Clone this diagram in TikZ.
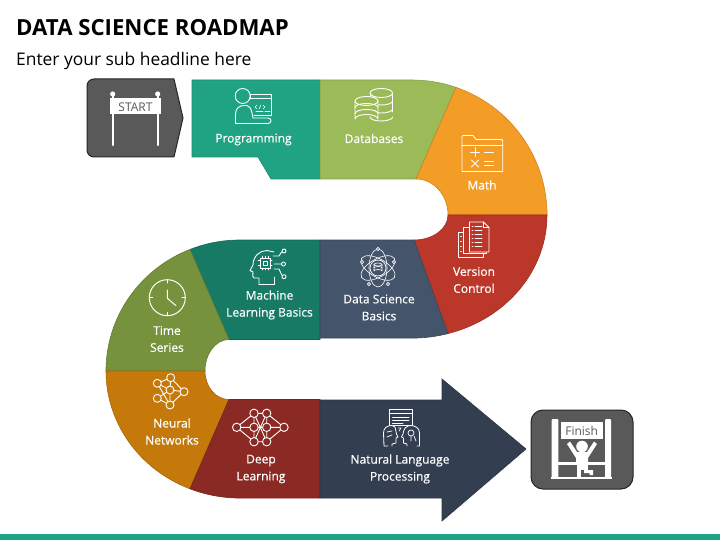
\documentclass[tikz,border=0pt]{standalone}
\usepackage{fontspec}
\setmainfont{Open Sans}
\newfontfamily\labelfont[FakeBold=0.5]{Open Sans}
\definecolor{progteal}{HTML}{1FA382}
\definecolor{dbgreen}{HTML}{9BBB59}
\definecolor{mathorange}{HTML}{F39C26}
\definecolor{vcred}{HTML}{BA372A}
\definecolor{dsnavy}{HTML}{44546A}
\definecolor{mlteal}{HTML}{167A64}
\definecolor{tsolive}{HTML}{76923C}
\definecolor{nnorange}{HTML}{C5790A}
\definecolor{dlbrown}{HTML}{8B2A24}
\definecolor{nlpslate}{HTML}{333F50}
\definecolor{signgrey}{HTML}{595959}
\begin{document}
\begin{tikzpicture}[x=1pt,y=-1pt,
    segment/.style={fill=#1,draw=#1!85!black,line width=0.6pt},
    label node/.style={text=white,align=center,font=\labelfont\fontsize{12}{17}\selectfont,inner sep=0pt},
    icon/.style={draw=white,line width=0.9pt,line join=round,line cap=round},
    sign box/.style={fill=signgrey,draw=black!85,line width=1pt}]

            \useasboundingbox (0,0) rectangle (720,540);
            \fill[progteal] (0,534) rectangle (720,540);

            \node[anchor=west,inner sep=0pt,font=\fontsize{22.2}{27}\selectfont\bfseries] (title) at (16,28) {DATA SCIENCE ROADMAP};
            \node[anchor=west,inner sep=0pt,font=\fontsize{17.4}{21}\selectfont] (sub) at (16,60.5) {Enter your sub headline here};

            \draw[sign box] (174,79) -- (183,118) -- (174,157) [rounded corners=7pt] -- (87,157) -- (87,79) -- (174,79);
            \draw[sign box,rounded corners=12pt] (531,410) rectangle (633,489);

            \draw[segment=progteal] (192,80) -- (320,80) -- (320,179) -- (271,179) -- (258,157) -- (192,157) -- cycle;
            \draw[segment=dbgreen] (320,80) -- (412,80) arc[start angle=-90,end angle=-71,radius=135] -- (416,179) -- (320,179) -- cycle;
            \draw[segment=mathorange] (456,87.4) arc[start angle=-71,end angle=0,radius=135] -- (448,215) arc[start angle=0,end angle=-90,x radius=32,y radius=36] -- cycle;
            \draw[segment=vcred] (547,215) arc[start angle=0,end angle=74.5,x radius=135,y radius=123] -- (414,240) arc[start angle=90,end angle=0,x radius=34,y radius=25] -- cycle;
            \draw[segment=mlteal] (320,240) -- (240,240) arc[start angle=-90,end angle=-111.9,x radius=134,y radius=131] -- (229,339.5) -- (320,339.5) -- cycle;
            \draw[segment=dsnavy] (320,240) -- (414,240) -- (448,333.6) arc[start angle=74.5,end angle=90,x radius=135,y radius=123] -- (320,338) -- cycle;
            \draw[segment=tsolive] (190,249.4) arc[start angle=-111.9,end angle=-180,x radius=134,y radius=131] -- (205,371) arc[start angle=180,end angle=270,x radius=24,y radius=31.5] -- cycle;
            \draw[segment=nnorange] (106,371) arc[start angle=180,end angle=112,x radius=134,y radius=127] -- (229,399.5) arc[start angle=90,end angle=180,x radius=24,y radius=28.5] -- cycle;
            \draw[segment=dlbrown] (320,399.5) -- (229,399.5) -- (190,488.8) arc[start angle=112,end angle=90,x radius=134,y radius=127] -- (320,498) -- cycle;
            \draw[segment=nlpslate] (320,400) -- (442,400) -- (442,379) -- (526,449) -- (442,521) -- (442,498) -- (320,498) -- cycle;

            \node[label node] (prog) at (253.5,139.5) {Programming};
            \node[label node] (db) at (374,138.5) {Databases};
            \node[label node] (math) at (482,185) {Math};
            \node[label node] (vc) at (474,280) {Version\\Control};
            \node[label node] (ds) at (379,307.5) {Data Science\\Basics};
            \node[label node] (ml) at (269.5,305) {Machine\\Learning Basics};
            \node[label node] (ts) at (167,339) {Time\\Series};
            \node[label node] (nn) at (172,431.5) {Neural\\Networks};
            \node[label node] (dl) at (261,469) {Deep\\Learning};
            \node[label node] (nlp) at (400,469) {Natural Language\\Processing};

            % start sign
            \foreach \x in {112.7,157.7} {
                \fill[white] (\x,94) circle[radius=2.6];
                \draw[white,line width=2.4pt,line cap=round] (\x,95) -- (\x,145);
            }
            \fill[white] (110,98) rectangle (161,114);
            \node[text=signgrey,inner sep=0pt,font=\fontsize{12}{14}\selectfont] (start) at (135.5,107) {START};

            % finish sign
            \fill[white,rounded corners=1pt] (551.7,419) rectangle (558.3,478);
            \fill[white,rounded corners=1pt] (605,419) rectangle (611,478);
            \fill[white] (550.5,477) rectangle (612,479);
            \fill[white] (558,462) rectangle (606,464.5);
            \fill[white] (560.7,421.7) rectangle (602.7,439.3);
            \node[text=signgrey,inner sep=0pt,font=\fontsize{12}{14}\selectfont] (finish) at (581.7,431) {Finish};
            \fill[white] (582,446.5) circle[radius=5.8];
            \fill[white] (567,444) -- (570,441.5) -- (577,452) -- (587,452) -- (594,441.5) -- (597,444) -- (588,458) -- (588,464) -- (576,464) -- (576,458) -- cycle;
            \fill[white] (576.5,464) rectangle (588,470);
            \fill[white] (577,470) rectangle (581,478);
            \fill[white] (584,470) -- (593,470) -- (593,475) -- (589.5,475) -- (589.5,473) -- (584,473) -- cycle;

            % programming
            \draw[icon] (250,99) -- (250,94.5) -- (271.7,94.5) -- (271.7,115.5) -- (254,115.5);
            \draw[icon] (250,98.5) -- (271.7,98.5);
            \draw[icon,line width=0.6pt] (257,105) -- (255,107) -- (257,109) (259,109) -- (261,105) (263,105) -- (265,107) -- (263,109);
            \draw[icon,line width=0.6pt] (256,111) -- (263,111) (265,111) -- (270,111);
            \draw[icon] (242.7,96) circle[radius=7.5];
            \draw[icon] (235.5,123.5) -- (235.5,114) .. controls (235.5,108) and (240,105.5) .. (244,105.5) -- (247,105.5) .. controls (250,106) and (251,109) .. (252,113) -- (253,118) -- (268,118) .. controls (272,118) and (272,123.5) .. (268,123.5) -- cycle;

            % databases
            \foreach \y in {0,8,16} {
                \draw[icon] (370,\y+101) arc[start angle=180,end angle=90,x radius=11.3,y radius=4] (381.3,\y+105) arc[start angle=90,end angle=0,x radius=11.3,y radius=4];
            }
            \draw[icon] (370,93) -- (370,110) (392.7,93) -- (392.7,112);
            \draw[icon] (381.3,93) ellipse[x radius=11.3,y radius=4.5];
            \draw[icon,fill=dbgreen] (355,101) -- (355,119) arc[start angle=180,end angle=0,x radius=11.5,y radius=-4.5] -- (378,101) -- cycle;
            \draw[icon,fill=dbgreen] (366.5,101) ellipse[x radius=11.5,y radius=4.5];
            \foreach \y in {107.5,113.5} {
                \draw[icon] (355,\y) arc[start angle=180,end angle=0,x radius=11.5,y radius=-4];
            }

            % math
            \draw[icon] (462,139) -- (462,136.5) -- (463,135.5) -- (473,135.5) -- (476,139.5) -- (502,139.5) -- (502.7,141) -- (502.7,171.5) -- (462,171.5) -- cycle;
            \draw[icon] (462,145.5) -- (502.7,145.5);
            \draw[icon] (470.5,152) -- (479.5,152) (475,147.5) -- (475,156.5);
            \draw[icon] (484.5,152) -- (493.5,152);
            \draw[icon] (471.5,160) -- (478.5,167) (478.5,160) -- (471.5,167);
            \draw[icon] (484.5,161) -- (493.5,161) (484.5,165.5) -- (493.5,165.5);

            % version control
            \draw[icon,fill=vcred,line width=0.8pt] (458.5,232) rectangle (483,257.5);
            \draw[icon,fill=vcred,line width=0.8pt] (463.5,227) rectangle (486,253);
            \draw[icon,fill=vcred,line width=0.8pt] (469.5,222) -- (483.5,222) -- (489,227.5) -- (489,252) -- (469.5,252) -- cycle;
            \draw[icon,line width=0.7pt] (483.5,222) -- (483.5,227.5) -- (489,227.5);
            \foreach \y in {226,230,234,238,242,246} {
                \draw[icon,line width=0.7pt] (472,\y) -- (473,\y) (475,\y) -- (482,\y);
            }
            \foreach \y in {236,241,246,251} {
                \draw[icon,line width=0.6pt] (460.5,\y) -- (461.5,\y);
            }

            % data science
            \foreach \a in {0,60,120} {
                \draw[icon,line width=0.6pt] (378,268) ellipse[x radius=19,y radius=9,rotate=\a+30];
            }
            \draw[icon,fill=dsnavy,line width=0.7pt] (378,268) circle[radius=8];
            \draw[icon,line width=0.6pt] (378,264.5) ellipse[x radius=4,y radius=1.5];
            \draw[icon,line width=0.6pt] (374,264.5) -- (374,271) arc[start angle=180,end angle=0,x radius=4,y radius=-1.5] -- (382,264.5);
            \draw[icon,line width=0.6pt] (374,268) arc[start angle=180,end angle=0,x radius=4,y radius=-1.5];
            \foreach \px/\py in {378/249,362/262,394/262,369/284,388/284} {
                \draw[icon,fill=dsnavy,line width=0.6pt] (\px,\py) circle[radius=1.6];
            }

            % machine learning
            \draw[icon] (259,284.5) -- (259,278) -- (254,278) .. controls (252.5,278) and (252.5,275) .. (253,272) -- (250,270.5) -- (253,265) .. controls (253,256) and (260,250.5) .. (267,250.5) -- (274,252);
            \draw[icon] (259,284.5) -- (274,284.5) -- (274,277);
            \draw[icon] (260,258) rectangle (270,268);
            \draw[icon,line width=0.7pt] (263,261) rectangle (267,265);
            \foreach \t in {262,265,268} {
                \draw[icon,line width=0.5pt] (\t,256) -- (\t,258) (\t,268) -- (\t,270);
            }
            \draw[icon,line width=0.5pt] (258,260.5) -- (260,260.5) (258,265.5) -- (260,265.5) (270,260.5) -- (272,260.5) (270,265.5) -- (272,265.5);
            \draw[icon] (273,256) -- (279,256) -- (281.5,252) (274,264) -- (281,264) (274,269) -- (279,269) -- (281.7,275);
            \draw[icon] (284,251) circle[radius=2] (283.5,264) circle[radius=2] (284,276.7) circle[radius=2];

            % time series
            \draw[icon,line width=1pt] (167.3,297.7) circle[radius=18];
            \draw[icon,line width=1pt] (167.3,290) -- (167.3,298.3) -- (176,305.7);
            \draw[icon,line width=1pt] (167.3,279.7) -- (167.3,283) (167.3,312.4) -- (167.3,315.7) (149.3,297.7) -- (152.6,297.7) (182,297.7) -- (185.3,297.7);

            % neural networks
            \draw[icon] (157.3,383.3) -- (170.7,377.7) -- (184,391.7) -- (170,405) -- (157.3,398.3) -- (170,390) -- (157.3,383.3);
            \draw[icon] (157.3,383.3) -- (170,405) (170.7,377.7) -- (170,390) -- (184,391.7) (170,390) -- (170,405);
            \foreach \px/\py in {157.3/383.3,170.7/377.7,184/391.7,170/390,157.3/398.3,170/405} {
                \draw[icon,fill=nnorange] (\px,\py) circle[radius=4];
            }

            % deep learning
            \draw[icon] (236.7,427.3) -- (254,413.3) -- (266.7,413.3) -- (284,427.3) -- (266.7,441.7) -- (254,441.7) -- cycle;
            \draw[icon] (236.7,427.3) -- (284,427.3) (254,413.3) -- (266.7,441.7) (254,441.7) -- (266.7,413.3) (254,413.3) -- (254,441.7) (266.7,413.3) -- (266.7,441.7);
            \foreach \px/\py in {236.7/427.3,254/413.3,254/427.3,254/441.7,266.7/413.3,266.7/427.3,266.7/441.7,284/427.3} {
                \draw[icon,fill=dlbrown] (\px,\py) circle[radius=4.2];
            }

            % language processing
            \draw[icon] (389,409.5) rectangle (412.5,425);
            \draw[icon,line width=0.7pt] (389,413.5) -- (412.5,413.5);
            \draw[icon,line width=0.7pt] (392.5,417) -- (409,417) (392.5,420) -- (409,420) (392.5,423) -- (403,423);
            \draw[icon,line width=0.8pt,fill=nlpslate] (388,446) -- (384,446) -- (383.5,433) .. controls (383.5,428) and (387,425.5) .. (392,425.5) -- (395,427) -- (396.5,434) -- (398,437) -- (396,438) -- (396,443) -- (392,444) -- (392,446);
            \draw[icon,line width=0.7pt] (387,432) -- (392,431) (387,437) -- (392,435);
            \draw[icon,line width=0.8pt,fill=nlpslate] (417,446) -- (419.5,446) -- (419.5,433) .. controls (419.5,428) and (415,425.5) .. (411,425.5) .. controls (406,425.5) and (403.5,429) .. (403,434) -- (401.5,437) -- (403.5,438) -- (403.5,443) -- (407,444) -- (407,446);
            \draw[icon,line width=0.7pt] (411,433) circle[radius=3];
            \draw[icon,line width=0.7pt] (414,436) -- (416,441) (411,436) -- (411,441);
            \draw[icon,line width=0.7pt] (399,431) -- (401,428) (398.5,428) -- (401,428);

        \end{tikzpicture}
\end{document}
